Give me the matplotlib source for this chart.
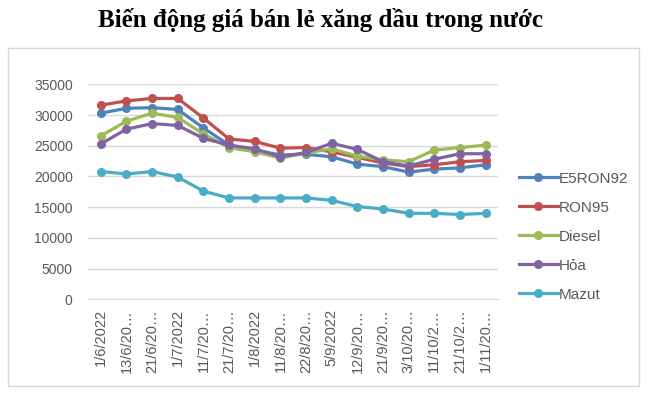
import numpy as np
import matplotlib
matplotlib.use("Agg")
import matplotlib.pyplot as plt
from matplotlib.patches import Rectangle

# ngày điều chỉnh giá
dates = ["1/6/2022", "13/6/2022", "21/6/2022", "1/7/2022", "11/7/2022", "21/7/2022",
         "1/8/2022", "11/8/2022", "22/8/2022", "5/9/2022", "12/9/2022", "21/9/2022",
         "3/10/2022", "11/10/2022", "21/10/2022", "1/11/2022"]

e5ron92 = [30300, 31100, 31200, 30900, 27900, 25100, 24300, 23500, 23600, 23200,
           22000, 21600, 20700, 21200, 21400, 21900]
ron95 = [31600, 32300, 32700, 32700, 29500, 26100, 25700, 24600, 24700, 24000,
         23100, 22200, 21600, 21900, 22400, 22600]
diesel = [26600, 29000, 30300, 29600, 26900, 24700, 24000, 23000, 23800, 24500,
          23300, 22700, 22400, 24300, 24700, 25100]
hoa = [25300, 27700, 28600, 28300, 26200, 25100, 24500, 23200, 23900, 25400,
       24400, 22400, 21700, 22800, 23700, 23700]
mazut = [20800, 20400, 20800, 19900, 17600, 16500, 16500, 16500, 16500, 16100,
         15100, 14700, 14000, 14000, 13800, 14000]

series = [("E5RON92", e5ron92, "#4F81BD"),
          ("RON95", ron95, "#C0504D"),
          ("Diesel", diesel, "#9BBB59"),
          ("Hỏa", hoa, "#8064A2"),
          ("Mazut", mazut, "#4BACC6")]

TXT = "#595959"

def short(lbl, n=8):
    # Excel cắt nhãn dài
    return lbl if len(lbl) <= n else lbl[:n - 1] + "…"

fig = plt.figure(figsize=(6.5, 3.96), dpi=100)
fig.patches.append(Rectangle((8 / 650, 1 - 386 / 396), 631 / 650, 338 / 396,
                             transform=fig.transFigure, fill=False,
                             edgecolor="#D9D9D9", linewidth=1))
fig.text(321 / 650, 1 - 27.5 / 396, "Biến động giá bán lẻ xăng dầu trong nước",
         ha="center", va="baseline", fontsize=18, fontweight="bold",
         family="Liberation Serif", color="black")

ax = fig.add_axes([88 / 650, 1 - 299.3 / 396, 410.5 / 650, 215 / 396])
x = np.arange(len(dates))
for name, vals, col in series:
    ax.plot(x, vals, color=col, lw=2.3, marker="o", ms=5.5, label=name)

ax.set_xlim(-0.5, len(dates) - 0.5)
ax.set_ylim(0, 35000)
ax.set_yticks(np.arange(0, 35001, 5000))
ax.set_yticklabels([str(v) for v in range(0, 35001, 5000)])
ax.set_xticks(x)
ax.set_xticklabels([short(d) for d in dates], rotation=90)
ax.grid(axis="y", color="#D9D9D9", lw=1)
ax.set_axisbelow(True)
for s in ["top", "right", "left"]:
    ax.spines[s].set_visible(False)
ax.spines["bottom"].set_color("#D9D9D9")
ax.tick_params(axis="y", length=0, pad=11, labelsize=10, labelcolor=TXT)
ax.tick_params(axis="x", length=0, pad=7, labelsize=10.5, labelcolor=TXT)
for lbl in ax.get_xticklabels() + ax.get_yticklabels():
    lbl.set_family("Liberation Sans")

fig.legend(loc="upper left", bbox_to_anchor=(511 / 650, 1 - 164 / 396),
           frameon=False, handlelength=2.55, handletextpad=0.08,
           labelspacing=0.98, borderpad=0, labelcolor=TXT,
           prop={"family": "Liberation Sans", "size": 11})

fig.savefig("out.png", dpi=100)
